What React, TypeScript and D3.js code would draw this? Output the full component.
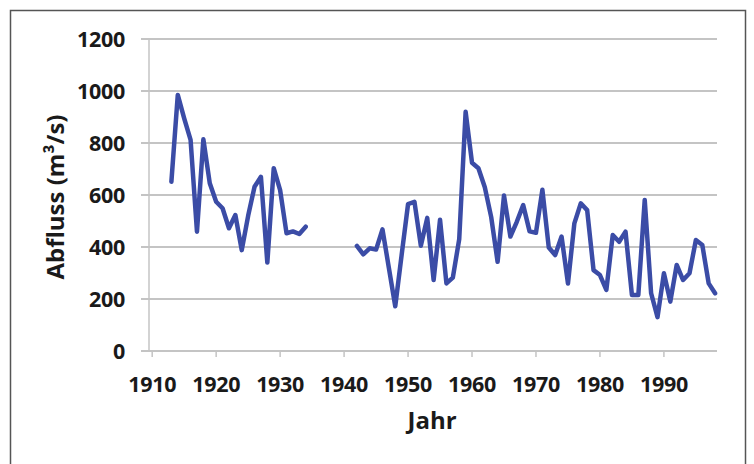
import React from "react";
import * as d3 from "d3";

const yearsA = [1913, 1914, 1915, 1916, 1917, 1918, 1919, 1920, 1921, 1922, 1923, 1924, 1925, 1926, 1927, 1928, 1929, 1930, 1931, 1932, 1933, 1934];
const valuesA = [651, 985, 895, 812, 459, 814, 645, 574, 549, 472, 523, 388, 520, 632, 670, 340, 703, 619, 453, 460, 450, 478];

const yearsB = [1942, 1943, 1944, 1945, 1946, 1947, 1948, 1949, 1950, 1951, 1952, 1953, 1954, 1955, 1956, 1957, 1958, 1959, 1960, 1961, 1962, 1963, 1964, 1965, 1966, 1967, 1968, 1969, 1970, 1971, 1972, 1973, 1974, 1975, 1976, 1977, 1978, 1979, 1980, 1981, 1982, 1983, 1984, 1985, 1986, 1987, 1988, 1989, 1990, 1991, 1992, 1993, 1994, 1995, 1996, 1997, 1998];
const valuesB = [404, 372, 395, 390, 468, 320, 172, 370, 565, 574, 405, 512, 273, 505, 260, 282, 430, 920, 724, 703, 630, 515, 343, 598, 440, 497, 561, 460, 455, 620, 398, 369, 440, 260, 491, 568, 542, 311, 292, 235, 446, 420, 459, 215, 215, 581, 222, 130, 299, 190, 331, 273, 299, 427, 408, 260, 222];

const xTicks = [1910, 1920, 1930, 1940, 1950, 1960, 1970, 1980, 1990];
const yTicks = [0, 200, 400, 600, 800, 1000, 1200];

const yTitle = "Abfluss (m³/s)";
const xTitle = "Jahr";

export default function App() {
  const W = 754;
  const H = 464;
  const x = d3.scaleLinear().domain([1909.5, 1998.3]).range([149, 717]);
  const y = d3.scaleLinear().domain([0, 1200]).range([351, 39]);
  const line = d3
    .line<[number, number]>()
    .x((d) => x(d[0]))
    .y((d) => y(d[1]));
  const seriesA: [number, number][] = yearsA.map((yr, i) => [yr, valuesA[i]]);
  const seriesB: [number, number][] = yearsB.map((yr, i) => [yr, valuesB[i]]);
  const font = "'Open Sans', 'DejaVu Sans', sans-serif";
  const [x0, x1] = x.range();
  return (
    <svg
      width={W}
      height={H}
      style={{ position: "absolute", left: 0, top: 0, display: "block", background: "#fff" }}
    >
      <rect x={0} y={0} width={W} height={H} fill="#fff" />
      <rect x={10.5} y={10.5} width={735} height={470} fill="none" stroke="#555" strokeWidth={1.5} />
      {yTicks.map((t) => (
        <line key={"g" + t} x1={141} x2={x1} y1={y(t)} y2={y(t)} stroke="#c4c4c4" strokeWidth={2} />
      ))}
      <line x1={x0} x2={x0} y1={y(1200)} y2={y(0)} stroke="#c4c4c4" strokeWidth={1.5} />
      {xTicks.map((t) => (
        <line key={"t" + t} x1={x(t)} x2={x(t)} y1={y(0)} y2={y(0) + 6} stroke="#c4c4c4" strokeWidth={1.5} />
      ))}
      {yTicks.map((t) => (
        <text
          key={"yl" + t}
          x={125}
          y={y(t)}
          dy="0.36em"
          textAnchor="end"
          fontFamily={font}
          fontWeight={700}
          fontSize={21.5}
          letterSpacing={-0.3}
          fill="#1a1a1a"
        >
          {t}
        </text>
      ))}
      {xTicks.map((t) => (
        <text
          key={"xl" + t}
          x={x(t)}
          y={392}
          textAnchor="middle"
          fontFamily={font}
          fontWeight={700}
          fontSize={21.5}
          letterSpacing={-0.3}
          fill="#1a1a1a"
        >
          {t}
        </text>
      ))}
      <text
        transform={`translate(64,197) rotate(-90)`}
        textAnchor="middle"
        fontFamily={font}
        fontWeight={700}
        fontSize={24}
        fill="#1a1a1a"
      >
        {yTitle}
      </text>
      <text x={432} y={429} textAnchor="middle" fontFamily={font} fontWeight={700} fontSize={24} fill="#1a1a1a">
        {xTitle}
      </text>
      <path d={line(seriesA) || ""} fill="none" stroke="#3B4CA6" strokeWidth={4.5} strokeLinejoin="round" strokeLinecap="round" />
      <path d={line(seriesB) || ""} fill="none" stroke="#3B4CA6" strokeWidth={4.5} strokeLinejoin="round" strokeLinecap="round" />
    </svg>
  );
}
